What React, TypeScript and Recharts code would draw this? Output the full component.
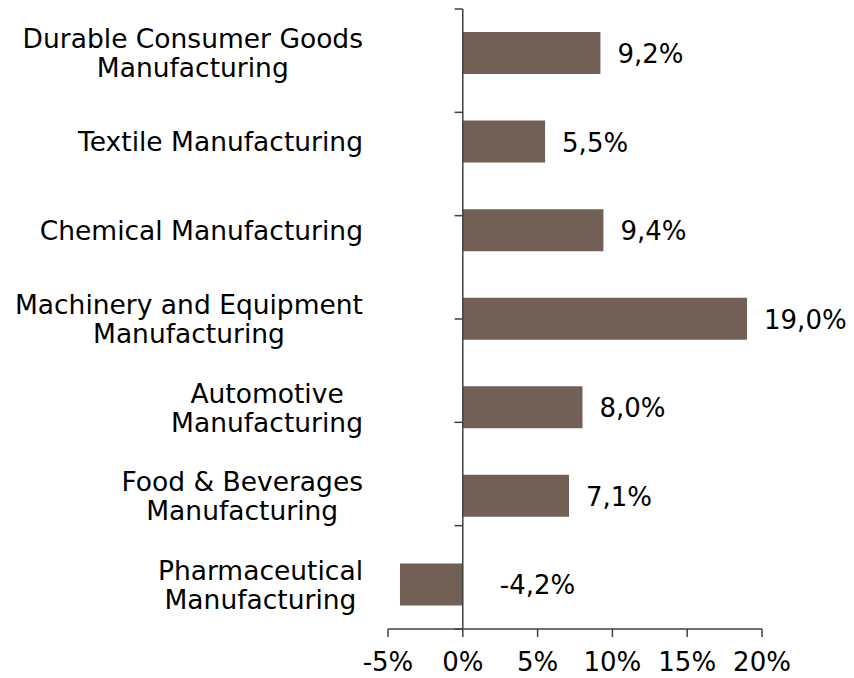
import React from 'react';
import {
  BarChart,
  Bar,
  XAxis,
  YAxis,
  ReferenceLine,
  LabelList,
} from 'recharts';

const categories = [
  'Durable Consumer Goods\nManufacturing',
  'Textile Manufacturing',
  'Chemical Manufacturing',
  'Machinery and Equipment\nManufacturing',
  'Automotive\nManufacturing',
  'Food & Beverages\nManufacturing',
  'Pharmaceutical\nManufacturing',
];

const growth = [9.2, 5.5, 9.4, 19.0, 8.0, 7.1, -4.2];

const xTicks = [-5, 0, 5, 10, 15, 20];

const data = categories.map((name, i) => ({ name, value: growth[i] }));

// boundaries between categories, used for the small marks on the zero axis
const boundaries = categories.map((_, i) => i).concat(categories.length);

const FONT = "'DejaVu Sans', Verdana, sans-serif";
const FONT_SIZE = 26;
const CAT_SIZE = 26.5;
const AXIS = '#404040';
const BAR = '#725f55';

let ctx: CanvasRenderingContext2D | null = null;
const measure = (s: string) => {
  if (!ctx) ctx = document.createElement('canvas').getContext('2d');
  if (!ctx) return s.length * CAT_SIZE * 0.6;
  ctx.font = `${CAT_SIZE}px ${FONT}`;
  return ctx.measureText(s).width;
};

const CategoryTick = (props: any) => {
  const { x, y, payload } = props;
  const lines: string[] = String(payload.value).split('\n');
  const blockW = Math.max(...lines.map(measure));
  const right = x - 17;
  const cx = right - blockW / 2;
  const lh = 29;
  const first = y + 9.5 - ((lines.length - 1) * lh) / 2;
  return (
    <text textAnchor='middle' fontFamily={FONT} fontSize={CAT_SIZE} fill='#000'>
      {lines.map((l, i) => (
        <tspan key={i} x={cx} y={first + i * lh}>
          {l}
        </tspan>
      ))}
    </text>
  );
};

const ValueLabel = (props: any) => {
  const { x, y, width, height, value } = props;
  const right = Math.max(x, x + width);
  const lx = value < 0 ? right + 37 : right + 17;
  return (
    <text
      x={lx}
      y={y + height / 2 + 10}
      fontFamily={FONT}
      fontSize={FONT_SIZE}
      fill='#000'
    >
      {value.toFixed(1).replace('.', ',') + '%'}
    </text>
  );
};

const App = () => {
  return (
    <div style={{ width: 854, height: 678 }}>
      <style>{'body{margin:0}'}</style>
      <BarChart
        width={854}
        height={678}
        data={data}
        layout='vertical'
        margin={{ top: 9, right: 92, bottom: 0, left: 0 }}
      >
        <XAxis
          type='number'
          domain={[-5, 20]}
          ticks={xTicks}
          allowDataOverflow
          tickFormatter={(v: number) => `${v}%`}
          stroke={AXIS}
          strokeWidth={1.5}
          tickSize={8}
          tickMargin={16}
          height={49}
          tick={{ fill: '#000', fontSize: FONT_SIZE, fontFamily: FONT }}
        />
        <YAxis
          type='category'
          dataKey='name'
          width={388}
          axisLine={false}
          tickLine={false}
          interval={0}
          tick={<CategoryTick />}
        />
        <YAxis
          yAxisId='grid'
          type='number'
          domain={[0, categories.length]}
          reversed
          hide
        />
        <Bar dataKey='value' fill={BAR} barSize={42} isAnimationActive={false}>
          <LabelList dataKey='value' content={<ValueLabel />} />
        </Bar>
        <ReferenceLine x={0} stroke={AXIS} strokeWidth={1.5} />
        {boundaries.map((b) => (
          <ReferenceLine
            key={b}
            yAxisId='grid'
            segment={[
              { x: -0.55, y: b },
              { x: 0, y: b },
            ]}
            stroke={AXIS}
            strokeWidth={1.5}
          />
        ))}
      </BarChart>
    </div>
  );
};

export default App;
